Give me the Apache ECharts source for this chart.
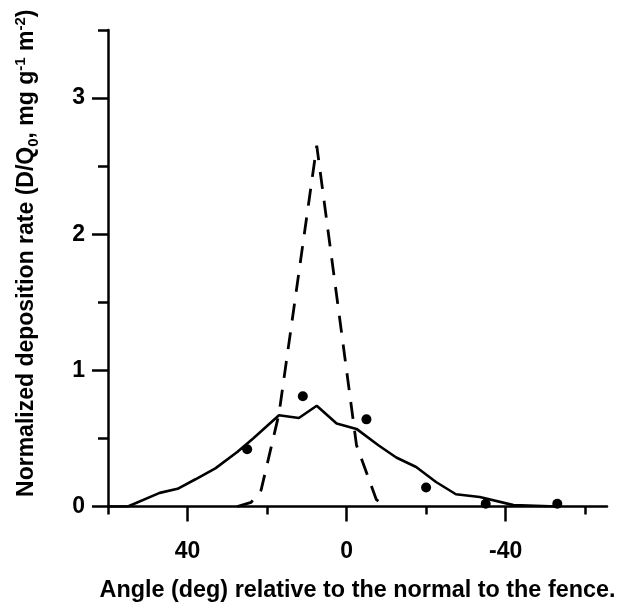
<!DOCTYPE html>
<html>
<head>
<meta charset="utf-8">
<script src="https://cdn.jsdelivr.net/npm/echarts@6/dist/echarts.min.js"></script>
<style>
html,body{margin:0;padding:0;background:#fff;}
#c{width:622px;height:603px;}
</style>
</head>
<body>
<div id="c"></div>
<script>
// Solid curve (model)
const solidAngle = [60, 55, 47, 42.5, 38, 33, 27.5, 23.5, 17, 12, 7.5, 2.5, -2.5, -8, -12.5, -17.5, -22.5, -27.5, -33.5, -42, -53];
const solidValue = [0, 0, 0.10, 0.13, 0.20, 0.28, 0.40, 0.50, 0.67, 0.65, 0.74, 0.61, 0.57, 0.45, 0.36, 0.29, 0.18, 0.09, 0.07, 0.01, 0];
// Dashed curve
const dashAngle = [27.5, 24, 21.5, 17, 7.5, -2.5, -7.5, -9.5];
const dashValue = [0, 0.03, 0.12, 0.68, 2.65, 0.45, 0.05, 0.01];
// Measured points
const dotAngle = [25, 11, -5, -20, -35, -53];
const dotValue = [0.42, 0.81, 0.64, 0.14, 0.02, 0.02];
// Ticks
const xMajorTicks = [40, 0, -40];
const xMinorTicks = [60, 20, -20, -60];
const yMajorTicks = [0, 1, 2, 3];
const yMinorTicks = [0.5, 1.5, 2.5, 3.5];

const FONT = 'Liberation Sans, Arial, sans-serif';
const zip = (a, b) => a.map((v, i) => [v, b[i]]);

const chart = echarts.init(document.getElementById('c'), null, {renderer: 'canvas'});
const axisLine = {show: true, onZero: false, lineStyle: {color: '#000', width: 2.5}};
chart.setOption({
  animation: false,
  backgroundColor: '#fff',
  grid: {left: 108, right: 15, top: 30, bottom: 96.5, containLabel: false, outerBoundsMode: 'none'},
  xAxis: [
    {
      type: 'value', min: -65.5, max: 60, inverse: true, position: 'bottom',
      axisLine: axisLine,
      axisTick: {show: true, inside: false, length: 15, customValues: xMajorTicks, lineStyle: {color: '#000', width: 2.5}},
      axisLabel: {show: true, customValues: xMajorTicks, margin: 34, color: '#000', fontSize: 23, fontWeight: 'bold', fontFamily: FONT},
      splitLine: {show: false},
      name: 'Angle (deg) relative to the normal to the fence.',
      nameLocation: 'middle', nameGap: 73,
      nameTextStyle: {color: '#000', fontSize: 23.4, fontWeight: 'bold', fontFamily: FONT}
    },
    {
      type: 'value', min: -65.5, max: 60, inverse: true, position: 'bottom',
      axisLine: {show: false, onZero: false},
      axisTick: {show: true, inside: false, length: 8, customValues: xMinorTicks, lineStyle: {color: '#000', width: 2.5}},
      axisLabel: {show: false},
      splitLine: {show: false}
    }
  ],
  yAxis: [
    {
      type: 'value', min: 0, max: 3.5, position: 'left',
      axisLine: axisLine,
      axisTick: {show: true, inside: false, length: 16, customValues: yMajorTicks, lineStyle: {color: '#000', width: 2.5}},
      axisLabel: {show: true, customValues: yMajorTicks, margin: 23, color: '#000', fontSize: 23, fontWeight: 'bold', fontFamily: FONT},
      splitLine: {show: false},
      name: 'Normalized deposition rate (D/Q{sub|0}, mg g{sup|-1} m{sup|-2})',
      nameLocation: 'middle', nameGap: 67, nameRotate: 90,
      nameTextStyle: {
        color: '#000', fontSize: 23, fontWeight: 'bold', fontFamily: FONT, lineHeight: 28,
        padding: [0, 0, 0, 30],
        rich: {
          sub: {fontSize: 15, fontWeight: 'bold', fontFamily: FONT, color: '#000', verticalAlign: 'bottom'},
          sup: {fontSize: 15, fontWeight: 'bold', fontFamily: FONT, color: '#000', verticalAlign: 'top'}
        }
      }
    },
    {
      type: 'value', min: 0, max: 3.5, position: 'left',
      axisLine: {show: false, onZero: false},
      axisTick: {show: true, inside: false, length: 10, customValues: yMinorTicks, lineStyle: {color: '#000', width: 2.5}},
      axisLabel: {show: false},
      splitLine: {show: false}
    }
  ],
  series: [
    {
      type: 'line', xAxisIndex: 0, yAxisIndex: 0,
      data: zip(solidAngle, solidValue),
      symbol: 'none', smooth: false,
      lineStyle: {color: '#000', width: 2.6}
    },
    {
      type: 'line', xAxisIndex: 0, yAxisIndex: 0,
      data: zip(dashAngle, dashValue),
      symbol: 'none', smooth: false,
      lineStyle: {color: '#000', width: 2.8, type: [17, 12]}
    },
    {
      type: 'scatter', xAxisIndex: 0, yAxisIndex: 0,
      data: zip(dotAngle, dotValue),
      symbol: 'circle', symbolSize: 10,
      itemStyle: {color: '#000', opacity: 1}
    }
  ]
});
</script>
</body>
</html>
